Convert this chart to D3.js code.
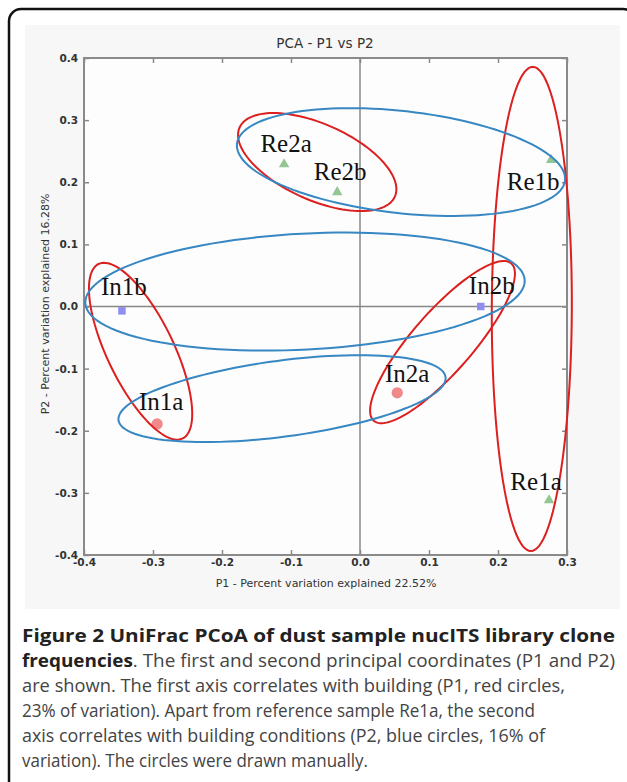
<!DOCTYPE html>
<html>
<head>
  <meta charset="utf-8">
  <title>UniFrac PCoA - P1 vs P2</title>
  <script src="https://d3js.org/d3.v7.min.js"></script>
  <style>
    body { margin: 0; background: #fff; }
    .tick text { font-family: "DejaVu Sans", sans-serif; font-size: 10.5px; font-weight: bold; fill: #333; }
    .tick line { stroke: #888; stroke-width: 1.5; }
    .axis-title { font-family: "DejaVu Sans", sans-serif; font-size: 11px; fill: #333; }
    .sample-label { font-family: "Liberation Serif", serif; font-size: 25px; fill: #111; }
    .caption { font-family: "Open Sans", sans-serif; font-size: 18px; fill: #333; }
  </style>
</head>
<body>
  <svg width="627" height="782"></svg>

  <script>
    // sample coordinates
    const sampleNames = ["Re2a", "Re2b", "Re1b", "In1b", "In2b", "In2a", "In1a", "Re1a"];
    const p1Values = [-0.110, -0.033, 0.277, -0.345, 0.175, 0.054, -0.294, 0.274];
    const p2Values = [0.229, 0.184, 0.236, -0.007, 0.000, -0.139, -0.189, -0.312];

    // hand drawn rings: centre and two conjugate semi-axes, in P1/P2 units
    const ringAxis = ["P1", "P1", "P1", "P1", "P2", "P2", "P2"];
    const ringCentres = [[-0.062, 0.2325], [0.249, -0.004], [-0.318, -0.072], [0.1196, -0.0573],
                         [0.0594, 0.2325], [-0.0797, 0.024], [-0.113, -0.1483]];
    const ringAxisA = [[0.1125, -0.0557], [0.0014, 0.3897], [0.0609, -0.1404], [0.0997, 0.1266],
                       [0.2377, -0.0296], [0.3184, 0.0185], [0.237, 0.0348]];
    const ringAxisB = [[-0.0225, -0.0559], [0.058, 0], [0.0435, 0.0234], [0.0328, -0.0319],
                       [-0.0083, -0.0816], [0.0043, -0.0932], [0.0072, -0.0607]];

    const xTicks = [-0.4, -0.3, -0.2, -0.1, 0.0, 0.1, 0.2, 0.3];
    const yTicks = [-0.4, -0.3, -0.2, -0.1, 0.0, 0.1, 0.2, 0.3, 0.4];

    const captionLines = [
      [["Figure 2 UniFrac PCoA of dust sample nucITS library clone", true]],
      [["frequencies", true], [". The first and second principal coordinates (P1 and P2)", false]],
      [["are shown. The first axis correlates with building (P1, red circles,", false]],
      [["23% of variation). Apart from reference sample Re1a, the second", false]],
      [["axis correlates with building conditions (P2, blue circles, 16% of", false]],
      [["variation). The circles were drawn manually.", false]]
    ];
    const captionWidths = [593, 593, 543, 513, 523, 346];

    // label placement relative to each marker (pixels)
    const labelOffset = {
      Re2a: [2, -12], Re2b: [3, -12], Re1b: [-18, 30], In1b: [2, -16],
      In2b: [11, -13], In2a: [10, -11], In1a: [4, -14], Re1a: [-13, -10]
    };

    const svg = d3.select("svg");
    const plot = { left: 84, right: 567, top: 58, bottom: 555 };

    const x = d3.scaleLinear().domain([-0.4, 0.3]).range([plot.left, plot.right]);
    const y = d3.scaleLinear().domain([-0.4, 0.4]).range([plot.bottom, plot.top]);
    const fmt = d => d3.format(".1f")(d).replace("\u2212", "-");

    // outer box and grey figure panel
    svg.append("rect")
      .attr("x", 9).attr("y", 9).attr("width", 626).attr("height", 800).attr("rx", 12)
      .attr("fill", "none").attr("stroke", "#111").attr("stroke-width", 2.5);
    svg.append("rect")
      .attr("x", 25).attr("y", 25).attr("width", 595).attr("height", 584)
      .attr("fill", "#f7f7f7");
    svg.append("rect")
      .attr("x", plot.left).attr("y", plot.top)
      .attr("width", plot.right - plot.left).attr("height", plot.bottom - plot.top)
      .attr("fill", "#fdfdfd");

    // zero lines
    svg.append("line")
      .attr("x1", x(0)).attr("x2", x(0)).attr("y1", plot.top).attr("y2", plot.bottom)
      .attr("stroke", "#888").attr("stroke-width", 1.5);
    svg.append("line")
      .attr("x1", plot.left).attr("x2", plot.right).attr("y1", y(0)).attr("y2", y(0))
      .attr("stroke", "#888").attr("stroke-width", 1.5);

    // axes, ticks pointing inward on all four sides
    const axes = [
      [d3.axisBottom(x).tickValues(xTicks).tickFormat(fmt).tickPadding(4), `translate(0,${plot.bottom})`],
      [d3.axisTop(x).tickValues(xTicks).tickFormat(""), `translate(0,${plot.top})`],
      [d3.axisLeft(y).tickValues(yTicks).tickFormat(fmt).tickPadding(6), `translate(${plot.left},0)`],
      [d3.axisRight(y).tickValues(yTicks).tickFormat(""), `translate(${plot.right},0)`]
    ];
    axes.forEach(([ax, tr]) => {
      const g = svg.append("g").attr("transform", tr)
        .call(ax.tickSizeInner(-5).tickSizeOuter(0));
      g.select(".domain").remove();
    });

    svg.append("rect")
      .attr("x", plot.left).attr("y", plot.top)
      .attr("width", plot.right - plot.left).attr("height", plot.bottom - plot.top)
      .attr("fill", "none").attr("stroke", "#8a8a8a").attr("stroke-width", 2);

    // titles
    svg.append("text").attr("class", "axis-title")
      .attr("x", 325).attr("y", 48).attr("text-anchor", "middle")
      .style("font-size", "13.5px")
      .text("PCA - P1 vs P2");
    svg.append("text").attr("class", "axis-title")
      .attr("x", 326).attr("y", 587).attr("text-anchor", "middle")
      .text("P1 - Percent variation explained 22.52%");
    svg.append("text").attr("class", "axis-title")
      .attr("transform", "translate(49,304) rotate(-90)").attr("text-anchor", "middle")
      .text("P2 - Percent variation explained 16.28%");

    // markers
    const samples = sampleNames.map((name, i) => ({ name, p1: p1Values[i], p2: p2Values[i] }));
    const shapeOf = name => name.startsWith("Re") ? "triangle" : (name.endsWith("b") ? "square" : "circle");
    const markerStyle = {
      triangle: { symbol: d3.symbolTriangle, size: 48, fill: "#93c693" },
      square: { symbol: d3.symbolSquare, size: 56, fill: "#8d8ef0" },
      circle: { symbol: d3.symbolCircle, size: 100, fill: "#f08a8a" }
    };

    svg.append("g").selectAll("path")
      .data(samples)
      .enter().append("path")
      .attr("transform", d => `translate(${x(d.p1)},${y(d.p2)})`)
      .attr("d", d => d3.symbol().type(markerStyle[shapeOf(d.name)].symbol).size(markerStyle[shapeOf(d.name)].size)())
      .attr("fill", d => markerStyle[shapeOf(d.name)].fill);

    // hand drawn rings
    const ringColour = { P1: "#dc1f1f", P2: "#3687c2" };
    const ringLine = d3.line().x(p => x(p[0])).y(p => y(p[1])).curve(d3.curveLinearClosed);
    const rings = ringAxis.map((axisName, i) => {
      const c = ringCentres[i], a = ringAxisA[i], b = ringAxisB[i];
      const pts = d3.range(120).map(k => {
        const t = k / 120 * 2 * Math.PI;
        return [c[0] + a[0] * Math.cos(t) + b[0] * Math.sin(t),
                c[1] + a[1] * Math.cos(t) + b[1] * Math.sin(t)];
      });
      return { axisName, pts };
    });
    svg.append("g").selectAll("path")
      .data(rings)
      .enter().append("path")
      .attr("d", d => ringLine(d.pts))
      .attr("fill", "none")
      .attr("stroke", d => ringColour[d.axisName])
      .attr("stroke-width", 2);

    // sample labels
    svg.append("g").selectAll("text")
      .data(samples)
      .enter().append("text")
      .attr("class", "sample-label")
      .attr("x", d => x(d.p1) + labelOffset[d.name][0])
      .attr("y", d => y(d.p2) + labelOffset[d.name][1])
      .attr("text-anchor", "middle")
      .text(d => d.name);

    // caption, each line squeezed or stretched to its width in the figure
    captionLines.forEach((parts, i) => {
      const t = svg.append("text").attr("class", "caption")
        .attr("x", 22).attr("y", 642 + i * 25)
        .attr("textLength", captionWidths[i])
        .attr("lengthAdjust", "spacingAndGlyphs");
      parts.forEach(([str, bold]) => {
        t.append("tspan")
          .attr("font-weight", bold ? "bold" : "normal")
          .attr("fill", bold ? "#222" : "#444")
          .text(str);
      });
    });
  </script>
</body>
</html>
